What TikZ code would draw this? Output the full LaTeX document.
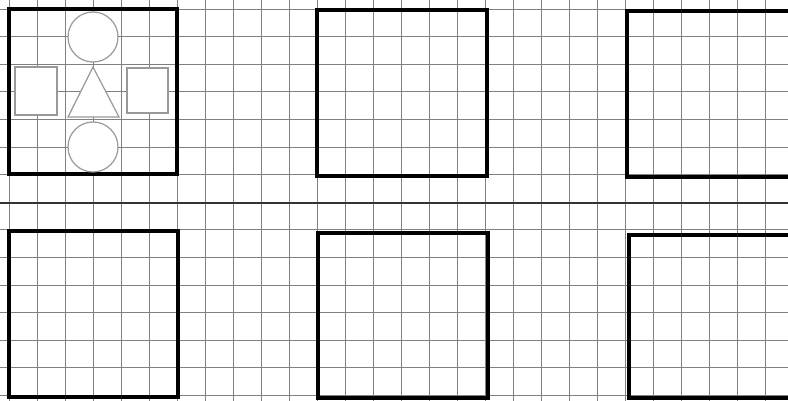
\documentclass[tikz,border=0pt]{standalone}
\begin{document}
\begin{tikzpicture}[x=1pt,y=-1pt,
  gridline/.style={draw=black!50,line width=0.8pt},
  sepline/.style={draw=black!80,line width=1.3pt},
  framebox/.style={draw=black,line width=3.6pt},
  shapeline/.style={draw=gray!80,fill=white,line width=1.2pt}]
\useasboundingbox (0,0) rectangle (788,401);
\clip (0,0) rectangle (788,401);
\fill[white] (0,0) rectangle (788,401);
% grid
\foreach \k in {0,...,28} {
  \draw[gridline] (9+28*\k,0) -- (9+28*\k,401);
}
\foreach \k in {0,...,14} {
  \draw[gridline] (0,9+27.6*\k) -- (788,9+27.6*\k);
}
% separator
\draw[sepline] (0,203) -- (788,203);
% frames
\draw[framebox] (9,9) rectangle (177,174);
\draw[framebox] (317,10) rectangle (487,176);
\draw[framebox] (627,11) rectangle (800,177);
\draw[framebox] (9,231) rectangle (178,397);
\draw[framebox] (318,233) rectangle (488,398);
\draw[framebox] (629,235) rectangle (800,398);
% shapes in first frame
\node[shapeline,circle,minimum size=50pt,inner sep=0pt] (topcircle) at (93,37) {};
\node[shapeline,circle,minimum size=50pt,inner sep=0pt] (botcircle) at (93,147) {};
\draw[shapeline] (93,67) coordinate (apex) -- (119,117) -- (68,117) -- cycle;
\node[shapeline,rectangle,minimum width=42pt,minimum height=48pt,inner sep=0pt] (leftsq) at (36,91) {};
\node[shapeline,rectangle,minimum width=41pt,minimum height=45pt,inner sep=0pt] (rightsq) at (147.5,90.5) {};
\end{tikzpicture}
\end{document}
